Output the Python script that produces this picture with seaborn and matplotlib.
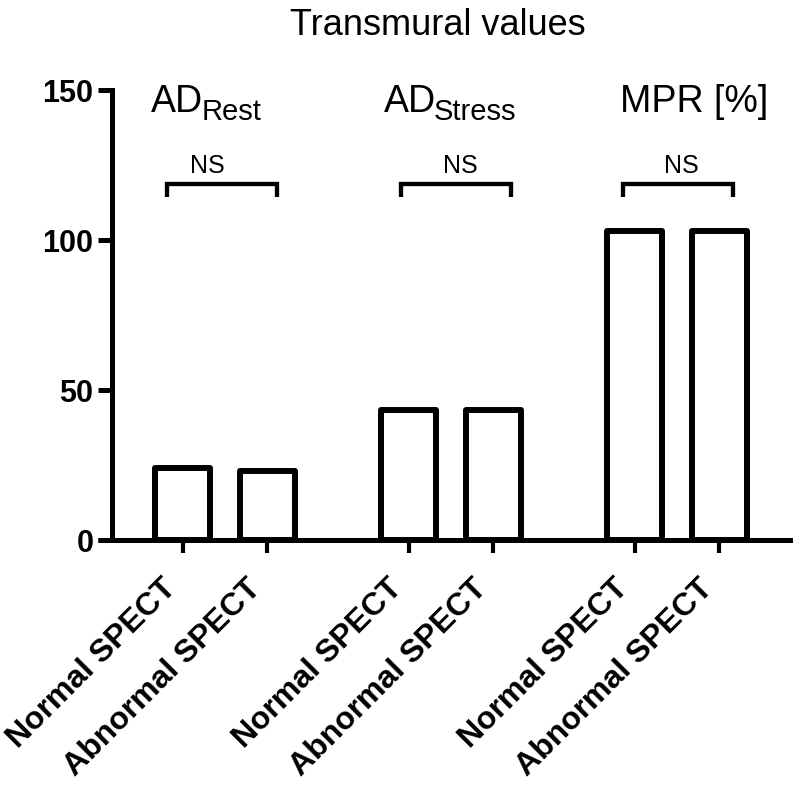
import matplotlib
matplotlib.use("Agg")
import matplotlib.pyplot as plt
import matplotlib.transforms as mtransforms
import seaborn as sns
import pandas as pd

# ---- data ----
groups = ["AD_Rest", "AD_Stress", "MPR"]
group_main = ["AD", "AD", "MPR [%]"]
group_sub = ["Rest", "Stress", ""]
conditions = ["Normal SPECT", "Abnormal SPECT"]
normal_vals = [24, 43.5, 103]
abnormal_vals = [23, 43.5, 103]
significance = ["NS", "NS", "NS"]
yticks = [0, 50, 100, 150]
title = "Transmural values"

df = pd.DataFrame({
    "group": groups * 2,
    "condition": [conditions[0]] * 3 + [conditions[1]] * 3,
    "value": normal_vals + abnormal_vals,
})

sns.set_style("ticks")
plt.rcParams["font.family"] = ["Liberation Sans", "DejaVu Sans"]
plt.rcParams["text.color"] = "black"
plt.rcParams["xtick.color"] = "black"
plt.rcParams["ytick.color"] = "black"
plt.rcParams["axes.labelcolor"] = "black"

fig = plt.figure(figsize=(8, 7.88), dpi=100)
W, H = 800, 788
ax = fig.add_axes([112 / W, (H - 540) / H, (790 - 112) / W, (540 - 90) / H])

sns.barplot(data=df, x="group", y="value", hue="condition", order=groups,
            hue_order=conditions, palette={c: "white" for c in conditions},
            edgecolor="black", linewidth=4.3, width=0.751, gap=0.35,
            legend=False, ax=ax, saturation=1)

for p in ax.patches:
    p.set_joinstyle("round")

ax.set_xlim(-0.5, 2.5)
ax.set_ylim(0, 150)
ax.set_yticks(yticks)
ax.set_yticklabels([str(t) for t in yticks], fontsize=22, fontweight="bold")

# tick per bar, taken from the drawn patches
bars = sorted(ax.patches, key=lambda p: p.get_x())
centers = [p.get_x() + p.get_width() / 2 for p in bars]
ax.set_xticks(centers)
ax.set_xticklabels(conditions * len(groups), rotation=45, ha="right",
                   fontsize=23, fontweight="bold")
ax.set_xlabel("")
ax.set_ylabel("")

for s in ["top", "right"]:
    ax.spines[s].set_visible(False)
for s in ["left", "bottom"]:
    ax.spines[s].set_linewidth(3.6)
    ax.spines[s].set_color("black")
ax.tick_params(axis="y", length=10, width=3.6, pad=3.5)
ax.tick_params(axis="x", length=9, width=3.0, pad=15)

# extend x axis line left of the y axis like GraphPad
trans = mtransforms.blended_transform_factory(ax.transAxes, ax.transData)
ax.plot([-14 / (790 - 112), 0], [0, 0], color="black", lw=3.6,
        transform=trans, clip_on=False, solid_capstyle="butt")

# group labels (main text + subscript), brackets, NS
label_centers_px = [206, 450, 694]
ns_offsets = [-0.08, 0.04, 0.02]
bracket_offsets = [-0.013, 0.022, 0.004]
renderer = fig.canvas.get_renderer()
y_base_px = H - 112
for i, sig in enumerate(significance):
    t_main = fig.text(0, y_base_px / H, group_main[i], fontsize=27,
                      ha="left", va="baseline")
    w_main = t_main.get_window_extent(renderer).width
    w_sub = 0
    t_sub = None
    if group_sub[i]:
        t_sub = fig.text(0, (y_base_px - 8) / H, group_sub[i], fontsize=21,
                         ha="left", va="baseline")
        w_sub = t_sub.get_window_extent(renderer).width - 2
    x0 = label_centers_px[i] - (w_main + w_sub) / 2
    t_main.set_x(x0 / W)
    if t_sub is not None:
        t_sub.set_x((x0 + w_main - 2) / W)

    c = i + bracket_offsets[i]
    ax.plot([c - 0.243, c - 0.243, c + 0.243, c + 0.243],
            [114.3, 118.7, 118.7, 114.3], color="black", lw=3.1,
            solid_joinstyle="miter", solid_capstyle="butt", clip_on=False)
    ax.text(i + ns_offsets[i], 122.3, sig, ha="center", va="baseline",
            fontsize=18)

fig.text(438 / W, 1 - 35 / H, title, ha="center", va="baseline", fontsize=26)

fig.savefig("out.png", dpi=100)
